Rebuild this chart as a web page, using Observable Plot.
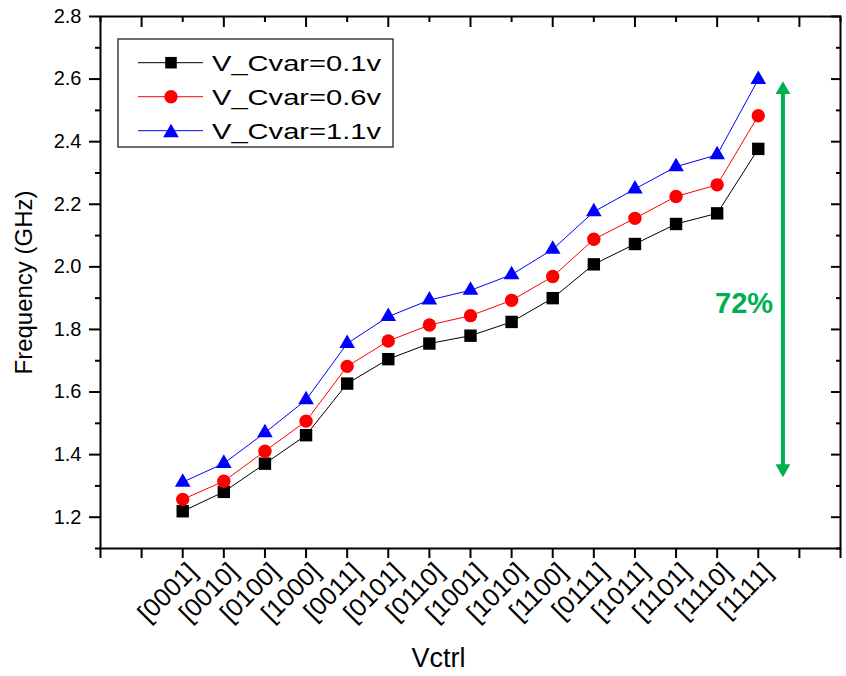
<!DOCTYPE html>
<html><head><meta charset="utf-8">
<script src="https://cdn.jsdelivr.net/npm/d3@7"></script>
<script src="https://cdn.jsdelivr.net/npm/@observablehq/plot@0.6"></script>
<style>
body{margin:0;background:#fff;}
#wrap{position:relative;width:846px;height:676px;overflow:hidden;}
#legend{position:absolute;left:0;top:0;pointer-events:none;}
</style></head><body><div id="wrap"></div>
<script>
// ---- data ----
const codes = ["[0001]","[0010]","[0100]","[1000]","[0011]","[0101]","[0110]","[1001]","[1010]","[1100]","[0111]","[1011]","[1101]","[1110]","[1111]"];
const fBlack = [1.219,1.281,1.371,1.462,1.627,1.705,1.755,1.780,1.824,1.900,2.008,2.073,2.137,2.171,2.377];
const fRed   = [1.257,1.315,1.411,1.507,1.682,1.763,1.814,1.844,1.893,1.969,2.088,2.155,2.225,2.262,2.483];
const fBlue  = [1.312,1.372,1.470,1.575,1.755,1.841,1.894,1.925,1.975,2.056,2.176,2.249,2.320,2.358,2.599];
const seriesNames = ["V_Cvar=0.1v","V_Cvar=0.6v","V_Cvar=1.1v"];
const seriesColors = ["#000000","#ff0000","#0000ff"];
const seriesSymbols = ["square","circle","triangle"];
const yMajor = [1.2,1.4,1.6,1.8,2.0,2.2,2.4,2.6,2.8];
const yMinor = [1.1,1.3,1.5,1.7,1.9,2.1,2.3,2.5,2.7];
const xTickPos = d3.range(-1, 18);
const xTopMajor = d3.range(0, 17, 2);
const xTopMinor = d3.range(-1, 18, 2);
const spanArrow = [{x: 15.6, low: 1.328, high: 2.593}];
const spanLabel = [{x: 15.36, y: 1.882, t: "72%"}];
const yTitle = "Frequency (GHz)";
const xTitle = "Vctrl";
const green = "#00b050";

const allSeries = [fBlack, fRed, fBlue];
const rows = allSeries.map(vals => vals.map((v, i) => ({i: i + 1, v})));
// shaft stops short of the arrow tips (heads are drawn as triangles)
const headGap = 0.034;
const shaft = spanArrow.map(d => ({x: d.x, y1: d.low + headGap, y2: d.high - headGap}));

const marks = [];
allSeries.forEach((vals, s) => {
  marks.push(Plot.line(rows[s], {x: "i", y: "v", stroke: seriesColors[s], strokeWidth: 1}));
});
allSeries.forEach((vals, s) => {
  const r = seriesSymbols[s] === "square" ? 7 : seriesSymbols[s] === "circle" ? 6.7 : 5.8;
  marks.push(Plot.dot(rows[s], {x: "i", y: "v", symbol: seriesSymbols[s], r, fill: seriesColors[s], stroke: "none"}));
});

const plot = Plot.plot({
  width: 846, height: 676,
  marginLeft: 100, marginRight: 6, marginTop: 16, marginBottom: 128,
  style: {fontFamily: "'Liberation Sans', Arial, sans-serif", background: "white", color: "black", overflow: "visible"},
  x: {type: "linear", domain: [-1, 17], axis: null},
  y: {type: "linear", domain: [1.1, 2.8], axis: null},
  marks: [
    // left axis
    Plot.axisY({anchor: "left", ticks: yMajor, tickSize: 11, tickPadding: 8, strokeWidth: 2, fontSize: 20, tickFormat: d3.format(".1f"), label: null}),
    Plot.axisY({anchor: "left", ticks: yMinor, tickSize: 5, strokeWidth: 2, tickFormat: () => "", label: null}),
    // right axis (inward)
    Plot.axisY({anchor: "right", ticks: yMajor, tickSize: 10, dx: -10, strokeWidth: 2, tickFormat: () => "", label: null}),
    Plot.axisY({anchor: "right", ticks: yMinor, tickSize: 5, dx: -5, strokeWidth: 2, tickFormat: () => "", label: null}),
    // top axis (inward)
    Plot.axisX({anchor: "top", ticks: xTopMajor, tickSize: 10, dy: 10, strokeWidth: 2, tickFormat: () => "", label: null}),
    Plot.axisX({anchor: "top", ticks: xTopMinor, tickSize: 5, dy: 5, strokeWidth: 2, tickFormat: () => "", label: null}),
    // bottom axis
    Plot.axisX({anchor: "bottom", ticks: xTickPos, tickSize: 10, strokeWidth: 2, tickFormat: () => "", label: null}),
    Plot.axisX({anchor: "bottom", ticks: d3.range(1, 16), tickSize: 0, tickPadding: 19, tickRotate: -45, fontSize: 25.5, dx: 10, tickFormat: i => codes[i - 1], label: null}),
    Plot.frame({stroke: "black", strokeWidth: 2}),
    ...marks,
    // span arrow
    Plot.ruleX(shaft, {x: "x", y1: "y1", y2: "y2", stroke: green, strokeWidth: 4}),
    Plot.dot(spanArrow, {x: "x", y: "high", symbol: "triangle", r: 5.5, fill: green, stroke: "none", dy: 8.5}),
    Plot.dot(spanArrow, {x: "x", y: "low", symbol: "triangle", r: 5.5, fill: green, stroke: "none", rotate: 180, dy: -8.5}),
    Plot.text(spanLabel, {x: "x", y: "y", text: "t", textAnchor: "end", fill: green, fontWeight: "bold", fontSize: 29}),
    // axis titles
    Plot.text([yTitle], {frameAnchor: "left", text: d => d, rotate: -90, dx: -76, textAnchor: "middle", lineAnchor: "middle", fontSize: 24, fill: "black"}),
    Plot.text([xTitle], {frameAnchor: "bottom", text: d => d, dx: -32, dy: 110, textAnchor: "middle", lineAnchor: "middle", fontSize: 27, fill: "black"})
  ]
});

const wrap = document.getElementById("wrap");
wrap.appendChild(plot);

// ---- legend ----
const lg = d3.select(wrap).append("svg").attr("id", "legend").attr("width", 846).attr("height", 676);
lg.append("rect").attr("x", 118).attr("y", 39).attr("width", 275).attr("height", 108)
  .attr("fill", "white").attr("stroke", "#222").attr("stroke-width", 1.3);
seriesNames.forEach((name, s) => {
  const cy = 62.7 + 34 * s;
  lg.append("line").attr("x1", 138).attr("x2", 203).attr("y1", cy).attr("y2", cy)
    .attr("stroke", seriesColors[s]).attr("stroke-width", 1);
  const sym = seriesSymbols[s] === "square" ? d3.symbolSquare : seriesSymbols[s] === "circle" ? d3.symbolCircle : d3.symbolTriangle;
  const r = seriesSymbols[s] === "square" ? 6.5 : seriesSymbols[s] === "circle" ? 6.7 : 5.8;
  lg.append("path").attr("d", d3.symbol(sym, Math.PI * r * r)())
    .attr("transform", `translate(171,${cy + (seriesSymbols[s] === "triangle" ? 2 : 0)})`).attr("fill", seriesColors[s]);
  lg.append("text").attr("x", 212).attr("y", cy + 7.8).attr("font-family", "'Liberation Sans', Arial, sans-serif")
    .attr("font-size", 22).attr("textLength", 169).attr("lengthAdjust", "spacingAndGlyphs").attr("fill", "black").text(name);
});
</script></body></html>
